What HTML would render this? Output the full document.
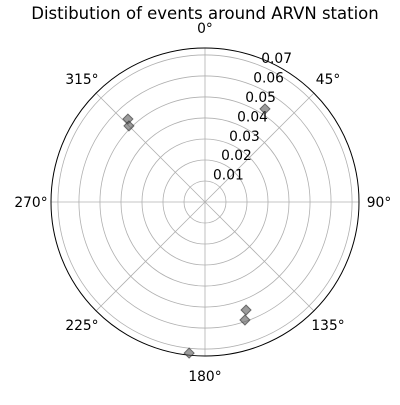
<!DOCTYPE html>
<html><head><meta charset="utf-8"><style>
body{margin:0;background:#fff}
svg text{font-family:"DejaVu Sans","Liberation Sans",sans-serif;fill:#000}
</style></head><body>
<svg id="chart" width="400" height="400">
<text x="205" y="19" font-size="16.5" text-anchor="middle">Distibution of events around ARVN station</text>
<g id="grid"></g><g id="marks"></g>
</svg>
<script>
const angles=[32.8,317.1,315,159.2,161.3,186];
const radii=[0.0527,0.0539,0.0512,0.055,0.0593,0.0723];
const rTicks=[0.01,0.02,0.03,0.04,0.05,0.06,0.07];
const thetaTicks=[0,45,90,135,180,225,270,315];
const rMax=0.0733;
const cx=205,cy=202,R=154;
const NS='http://www.w3.org/2000/svg';
function rs(v){return v/rMax*R;}
function pt(a,r){const t=a*Math.PI/180;return [cx+r*Math.sin(t),cy-r*Math.cos(t)];}
function mk(tag,attrs,parent){const e=document.createElementNS(NS,tag);for(const k in attrs)e.setAttribute(k,attrs[k]);parent.appendChild(e);return e;}
const g=document.getElementById('grid'),m=document.getElementById('marks');
rTicks.forEach(v=>{
 const c=mk('circle',{cx:cx,cy:cy,r:rs(v),fill:'none',stroke:'#b0b0b0','stroke-width':0.8},g);
 
 
});
thetaTicks.forEach(a=>{
 const p=pt(a,R);
 const l=mk('line',{x1:cx,y1:cy,x2:p[0],y2:p[1],stroke:'#b0b0b0','stroke-width':0.8},g);
 
 
 const q=pt(a,R+20);
 const t=mk('text',{x:q[0],y:q[1]+5,'font-size':13.8,'text-anchor':'middle'},g);
 t.textContent=a+'°';
 
 
});
const oc=mk('circle',{cx:cx,cy:cy,r:R,fill:'none',stroke:'#000','stroke-width':1},g);


rTicks.forEach(v=>{
 const p=pt(22.5,rs(v));
 const t=mk('text',{x:p[0],y:p[1]-3,'font-size':13.8,'text-anchor':'start'},g);
 t.textContent=v.toFixed(2);
 
 
});
angles.forEach((a,i)=>{
 const p=pt(a,rs(radii[i]));const s=5;
 const d=mk('polygon',{points:`${p[0]},${p[1]-s} ${p[0]+s},${p[1]} ${p[0]},${p[1]+s} ${p[0]-s},${p[1]}`,fill:'rgba(90,90,90,0.6)',stroke:'rgba(40,40,40,0.6)','stroke-width':1},m);
 
 
});
</script>
</body></html>
